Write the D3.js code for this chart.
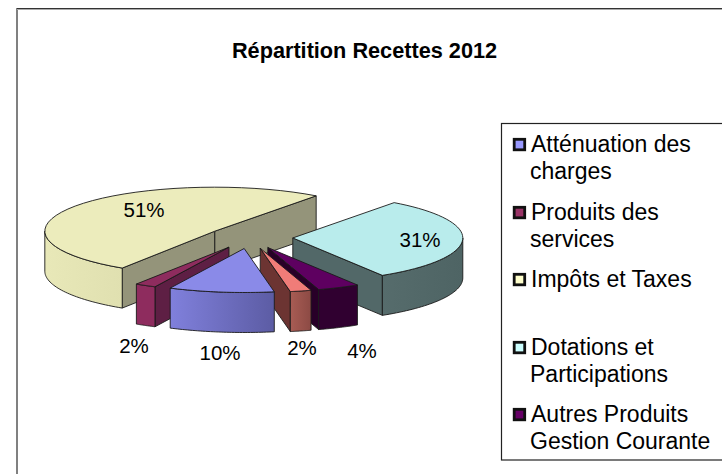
<!DOCTYPE html>
<html><head><meta charset="utf-8">
<script src="https://cdn.jsdelivr.net/npm/d3@7"></script>
<style>html,body{margin:0;padding:0;background:#fff}svg{display:block}text{font-family:"Liberation Sans",Arial,sans-serif;fill:#000}</style>
</head><body><svg id="c" width="722" height="474"></svg>
<script>
const chartTitle = "Répartition Recettes 2012";
const sliceNames = ["Atténuation des charges","Produits des services","Impôts et Taxes","Dotations et Participations","Autres Produits Gestion Courante","Autres"];
const sliceValues = [10,2,51,31,4,2];
const sliceLabels = ["10%","2%","51%","31%","4%","2%"];
const topColors  = ["#8a8ae8","#8e2c5e","#ececbc","#b9ecec","#5e0060","#f07c78"];
const wallFrom   = ["#8080dc","#8e2c5e","#e8e8b8","#566c6c","#300030","#a85c54"];
const wallTo     = ["#5c5ca4","#8e2c5e","#e0e0b0","#4e6464","#300030","#8c4a44"];
const sideColors = ["#5c5ca4","#5e1f44","#94947a","#526868","#280028","#6c3432"];
const legendRows = [
  {i:0,lines:["Atténuation des","charges"]},
  {i:1,lines:["Produits des","services"]},
  {i:2,lines:["Impôts et Taxes"]},
  {i:3,lines:["Dotations et","Participations"]},
  {i:4,lines:["Autres Produits","Gestion Courante"]}];
const legendFill = ["#9999ff","#993366","#ffffcc","#ccffff","#660066"];

const svg = d3.select("#c");
const cx=250, cy=237.5, rx=170, ry=44, depth=40, explode=0.252;
const start = 169.8*Math.PI/180;
const pie = d3.pie().sort(null).value(d=>d).startAngle(start).endAngle(start+2*Math.PI);
const arcs = pie(sliceValues);
const px = a=>Math.sin(a), py = a=>-Math.cos(a);
const sx = d3.scaleLinear().domain([-1,1]).range([-rx,rx]);
const sy = d3.scaleLinear().domain([-1,1]).range([-ry,ry]);

// frame
svg.append("line").attr("x1",17).attr("x2",17).attr("y1",8).attr("y2",474).attr("stroke","#808080").attr("stroke-width",2);
svg.append("line").attr("x1",17).attr("x2",722).attr("y1",8.5).attr("y2",8.5).attr("stroke","#333").attr("stroke-width",1);
svg.append("line").attr("x1",17).attr("x2",722).attr("y1",9.5).attr("y2",9.5).attr("stroke","#aaa").attr("stroke-width",1);

svg.append("text").attr("x",364.5).attr("y",58).attr("text-anchor","middle").attr("font-weight","bold").attr("font-size",21.7).text(chartTitle);

const defs = svg.append("defs");
const line = d3.line();
const stroke = "#1a1a1a";
// draw back to front: Impôts, Dotations, Autres, salmon, Produits, Atténuation
const order = [2,3,4,5,1,0];
order.forEach(i=>{
  const d = arcs[i], a0=d.startAngle, a1=d.endAngle, mid=(a0+a1)/2;
  const ox = cx+explode*sx(px(mid)), oy = cy+explode*sy(py(mid));
  const P = (a,z=0)=>[ox+sx(px(a)), oy+sy(py(a))+z];
  const g = svg.append("g");
  const style = (s,fill)=>s.attr("fill",fill).attr("stroke",stroke).attr("stroke-width",0.9).attr("stroke-linejoin","round");
  const sample = (u,v)=>d3.range(0,41).map(k=>u+(v-u)*k/40);
  // radial faces, drawn when they face the viewer
  const faceA = py(a0-Math.PI/2)>0, faceB = py(a1+Math.PI/2)>0;
  const A=[ox,oy];
  const rad = (a)=>line([A,P(a),P(a,depth),[ox,oy+depth]])+"Z";
  if(faceA) style(g.append("path").attr("d",rad(a0)),sideColors[i]);
  if(faceB) style(g.append("path").attr("d",rad(a1)),sideColors[i]);
  // outer wall on the front half of the ellipse
  [0,1,2].forEach(n=>{
    const off=n*2*Math.PI, u=Math.max(a0,Math.PI/2+off), v=Math.min(a1,3*Math.PI/2+off);
    if(v>u){
      const s=sample(u,v);
      const gid="w"+i+n;
      const gr=defs.append("linearGradient").attr("id",gid).attr("gradientUnits","userSpaceOnUse")
        .attr("x1",P(v)[0]).attr("x2",P(u)[0]).attr("y1",0).attr("y2",0);
      gr.append("stop").attr("offset",0).attr("stop-color",wallFrom[i]);
      gr.append("stop").attr("offset",1).attr("stop-color",wallTo[i]);
      const poly=s.map(a=>P(a)).concat(s.slice().reverse().map(a=>P(a,depth)));
      style(g.append("path").attr("d",line(poly)+"Z"),`url(#${gid})`);
    }
  });
  // top face
  const top=[A].concat(sample(a0,a1).map(a=>P(a)));
  style(g.append("path").attr("d",line(top)+"Z"),topColors[i]);
});

// data labels
const labelAt = [[220,360],[134,353],[144,217],[420,247],[362,358],[302,355]];
svg.append("g").selectAll("text").data(sliceLabels).join("text")
  .attr("text-anchor","middle").attr("font-size",20.5)
  .attr("x",(d,i)=>labelAt[i][0]).attr("y",(d,i)=>labelAt[i][1]).text(d=>d);

// legend
svg.append("rect").attr("x",501.5).attr("y",123.5).attr("width",240).attr("height",336.5).attr("fill","none").attr("stroke","#222").attr("stroke-width",1.2);
const rowY = [152,220,287,355,422];
legendRows.forEach((r,k)=>{
  svg.append("rect").attr("x",514.2).attr("y",rowY[k]-12.7).attr("width",10.5).attr("height",10.5)
    .attr("fill",legendFill[r.i]).attr("stroke","#111").attr("stroke-width",2.8);
  r.lines.forEach((t,j)=>svg.append("text").attr("x",j?530:531).attr("y",rowY[k]+j*27).attr("font-size",23).text(t));
});
</script></body></html>
